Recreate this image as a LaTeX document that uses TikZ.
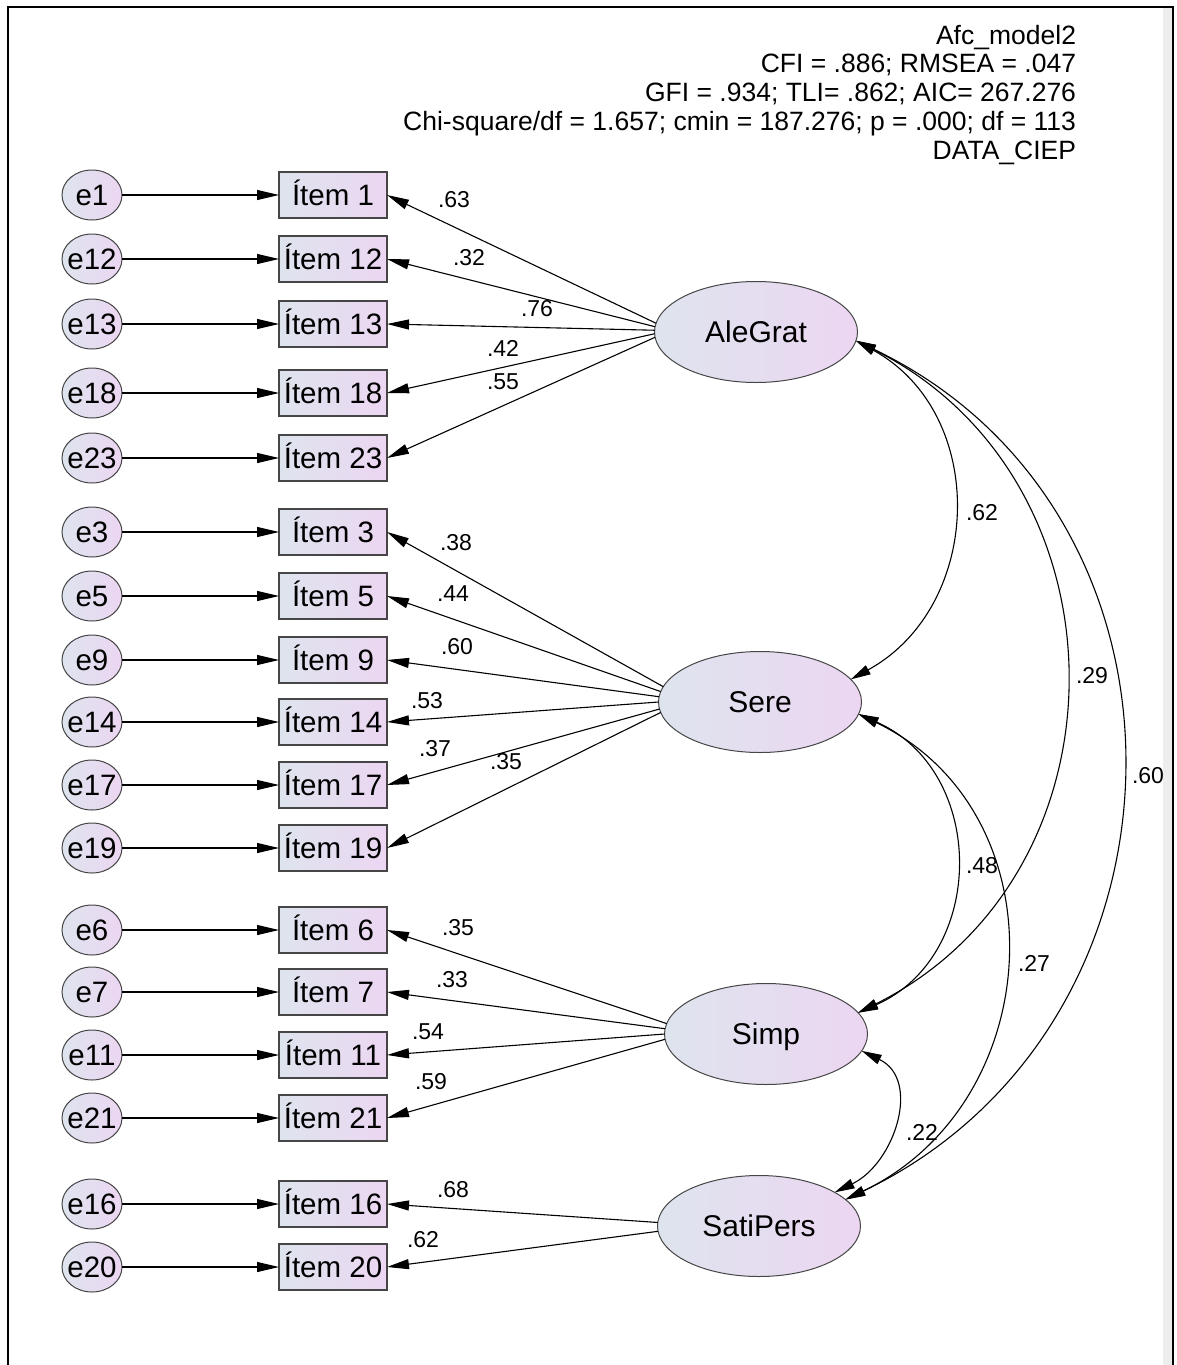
\documentclass[tikz,border=0pt]{standalone}
\usepackage{fontspec}
\setmainfont{Liberation Sans}
\usetikzlibrary{arrows.meta,shapes.geometric}
\definecolor{fillL}{RGB}{222,228,238}
\definecolor{fillR}{RGB}{236,214,242}
\definecolor{edgec}{RGB}{70,70,70}
\newcommand{\ctext}[1]{\makebox[0pt]{\raisebox{-0.36em}[0pt][0pt]{#1}}}
\begin{document}
\begin{tikzpicture}[x=1pt,y=-1pt,
  every node/.style={inner sep=0pt, outer sep=0pt},
  obs/.style={draw=edgec, line width=1.3pt, rectangle, minimum width=108pt, minimum height=46pt, left color=fillL, right color=fillR, font=\fontsize{29.5}{30}\selectfont},
  err/.style={draw=edgec, line width=1pt, ellipse, minimum width=60pt, minimum height=50pt, left color=fillL, right color=fillR, font=\fontsize{29.5}{30}\selectfont},
  lat/.style={draw=edgec, line width=1pt, ellipse, minimum width=203pt, minimum height=101pt, left color=fillL, right color=fillR, font=\fontsize{30}{31}\selectfont},
  coef/.style={font=\fontsize{23}{24}\selectfont},
  hdr/.style={anchor=base east, font=\fontsize{26.5}{27}\selectfont},
  load/.style={line width=1.1pt, -{Triangle[length=22pt,width=10pt]}},
  cov/.style={line width=1.1pt, {Triangle[length=20pt,width=10pt]}-{Triangle[length=20pt,width=10pt]}},
]
\useasboundingbox (0,0) rectangle (1176,1365);
% frame
\fill[black!7] (1163,8) rectangle (1172,1365);
\draw[line width=2pt] (8,1366) -- (8,7) -- (1173,7) -- (1173,1366);

% header
\node[hdr] (h1) at (1076,44) {Afc\_model2};
\node[hdr] (h2) at (1076,72) {CFI = .886; RMSEA = .047};
\node[hdr] (h3) at (1076,101) {GFI = .934; TLI= .862; AIC= 267.276};
\node[hdr] (h4) at (1076,130) {Chi-square/df = 1.657; cmin = 187.276; p = .000; df = 113};
\node[hdr] (h5) at (1076,159) {DATA\_CIEP};

% error terms and items
\foreach \n/\y in {1/195,12/259,13/324,18/393,23/458,3/532,5/596,9/660,14/722,17/785,19/848,6/930,7/992,11/1055,21/1118,16/1204,20/1267}{
  \node[err] (e\n) at (92,\y) {\ctext{e\n}};
  \node[obs] (i\n) at (333,\y) {\ctext{Ítem \n}};
  \draw[load] (e\n) -- (i\n);
}

% latent factors
\node[lat] (ale) at (756,332) {\ctext{AleGrat}};
\node[lat] (sere) at (760,702) {\ctext{Sere}};
\node[lat] (simp) at (766,1034) {\ctext{Simp}};
\node[lat] (sati) at (759,1226) {\ctext{SatiPers}};

% loadings
\foreach \n/\a in {1/175,12/177,13/179,18/181,23/183.5}
  \draw[load] (ale.\a) -- (i\n.east);
\foreach \n/\a in {3/171,5/174,9/177,14/180,17/184,19/186}
  \draw[load] (sere.\a) -- (i\n.east);
\foreach \n/\a in {6/174,7/177,11/180,21/183}
  \draw[load] (simp.\a) -- (i\n.east);
\foreach \n/\a in {16/178,20/183}
  \draw[load] (sati.\a) -- (i\n.east);

% loading labels
\node[coef] (l1) at (454,200) {.63};
\node[coef] (l12) at (469,258) {.32};
\node[coef] (l13) at (537,309) {.76};
\node[coef] (l18) at (503,348) {.42};
\node[coef] (l23) at (503,382) {.55};
\node[coef] (l3) at (456,543) {.38};
\node[coef] (l5) at (453,594) {.44};
\node[coef] (l9) at (457,647) {.60};
\node[coef] (l14) at (427,701) {.53};
\node[coef] (l17) at (435,749) {.37};
\node[coef] (l19) at (506,762) {.35};
\node[coef] (l6) at (458,928) {.35};
\node[coef] (l7) at (452,980) {.33};
\node[coef] (l11) at (428,1032) {.54};
\node[coef] (l21) at (431,1082) {.59};
\node[coef] (l16) at (453,1190) {.68};
\node[coef] (l20) at (423,1240) {.62};

% covariances
\draw[cov] (ale.-5) .. controls +(133,73) and +(133,-73) .. (sere.14);
\draw[cov] (ale.-5) .. controls +(277,138) and +(277,-138) .. (simp.13);
\draw[cov] (ale.-5) .. controls +(361,173) and +(361,-173) .. (sati.17);
\draw[cov] (sere.-7) .. controls +(129,57) and +(129,-57) .. (simp.13);
\draw[cov] (sere.-7) .. controls +(204,98) and +(204,-98) .. (sati.17);
\draw[cov] (simp.-10) .. controls +(60,29) and +(60,-29) .. (sati.24);

\node[coef] (c1) at (982,513) {.62};
\node[coef] (c2) at (1092,676) {.29};
\node[coef] (c3) at (1148,776) {.60};
\node[coef] (c4) at (982,866) {.48};
\node[coef] (c5) at (1034,963) {.27};
\node[coef] (c6) at (922,1132) {.22};
\end{tikzpicture}
\end{document}
